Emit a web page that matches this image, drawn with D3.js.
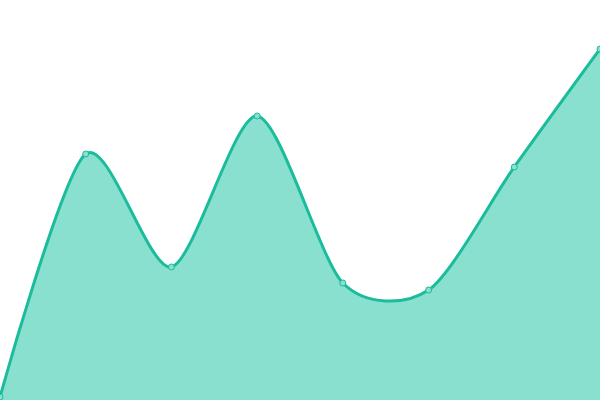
<!DOCTYPE html>
<html>
<head>
<meta charset="utf-8">
<script src="https://cdn.jsdelivr.net/npm/d3@7"></script>
<style>
  html, body { margin: 0; padding: 0; background: #fff; }
</style>
</head>
<body>
<svg id="chart" width="600" height="400"></svg>
<script>
// values (0 = bottom, 400 = top)
const labels = ['p1', 'p2', 'p3', 'p4', 'p5', 'p6', 'p7', 'p8'];
const values = [3, 246, 133, 284, 117, 110, 233, 351];

const width = 600;
const height = 400;

const svg = d3.select('#chart');

const xScale = d3.scalePoint()
  .domain(labels)
  .range([0, width]);

const yScale = d3.scaleLinear()
  .domain([0, 400])
  .range([height, 0]);

const data = labels.map((l, i) => ({ label: l, value: values[i] }));

const curve = d3.curveCardinal.tension(0.2);

const area = d3.area()
  .x((d) => xScale(d.label))
  .y0(height)
  .y1((d) => yScale(d.value))
  .curve(curve);

const line = d3.line()
  .x((d) => xScale(d.label))
  .y((d) => yScale(d.value))
  .curve(curve);

svg.append('path')
  .datum(data)
  .attr('d', area)
  .style('fill', '#89e0ce');

svg.append('path')
  .datum(data)
  .attr('d', line)
  .style('fill', 'none')
  .style('stroke', '#1abc9c')
  .style('stroke-width', 3);

svg.selectAll('circle.pt')
  .data(data)
  .enter()
  .append('circle')
  .attr('class', 'pt')
  .attr('cx', (d) => xScale(d.label))
  .attr('cy', (d) => yScale(d.value))
  .attr('r', 3)
  .style('fill', '#89e0ce')
  .style('stroke', '#1abc9c')
  .style('stroke-width', 1);
</script>
</body>
</html>
